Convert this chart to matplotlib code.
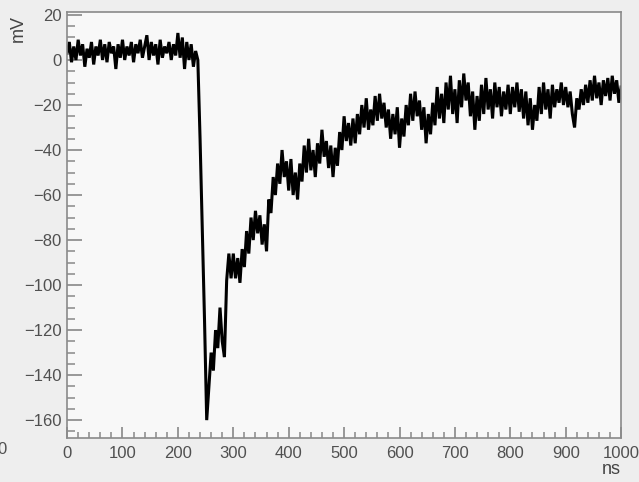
import numpy as np
import matplotlib.pyplot as plt
from matplotlib.ticker import MultipleLocator

# sample times (ns), one reading every 4 ns
time_ns = np.arange(0, 1001, 4)

# voltage readings (mV), 25 per 100 ns
volt_mv = [
    # 0 - 96
    3, 8, -1, 6, 0, 9, 2, 7, -3, 5, 1, 8, -2, 6, 2, 9, 0, 7, -1, 8, 3, 6, -4, 7, 1,
    # 100 - 196
    9, 0, 6, 2, 8, -1, 7, 3, 9, 1, 6, 11, 0, 8, 2, 7, -2, 9, 1, 6, 3, 8, 0, 7, 2,
    # 200 - 296
    12, 1, 10, -4, 8, 0, 7, -3, 4, 0, -35, -75, -115, -160, -145, -130, -138, -120,
    -128, -110, -125, -132, -98, -86, -97,
    # 300 - 396
    -86, -97, -88, -99, -84, -92, -76, -86, -70, -80, -67, -77, -69, -82, -73, -85,
    -62, -68, -52, -60, -46, -55, -40, -52, -45,
    # 400 - 496
    -58, -44, -60, -50, -62, -46, -54, -38, -50, -35, -49, -40, -52, -37, -46, -31,
    -43, -36, -48, -38, -52, -39, -47, -32, -40,
    # 500 - 596
    -25, -36, -28, -38, -26, -37, -24, -33, -20, -30, -17, -31, -22, -29, -16, -27,
    -15, -26, -19, -30, -22, -35, -24, -33, -21,
    # 600 - 696
    -39, -26, -34, -20, -29, -15, -27, -14, -25, -18, -31, -21, -37, -24, -33, -19,
    -29, -12, -26, -15, -28, -10, -22, -7, -24,
    # 700 - 796
    -13, -28, -9, -21, -6, -18, -10, -25, -14, -31, -16, -27, -11, -24, -8, -22,
    -13, -26, -10, -21, -12, -25, -14, -22, -11,
    # 800 - 896
    -24, -12, -21, -10, -23, -13, -26, -14, -29, -17, -31, -20, -27, -12, -24, -10,
    -22, -13, -26, -11, -21, -13, -19, -10, -20,
    # 900 - 1000
    -12, -21, -14, -24, -30, -17, -22, -13, -20, -11, -19, -9, -18, -7, -17, -10,
    -20, -9, -16, -8, -18, -7, -15, -9, -19, -12,
]

fig = plt.figure(figsize=(6.39, 4.82), dpi=100, facecolor="#eeeeee")
ax = fig.add_axes([0.105, 0.091, 0.867, 0.884])
ax.set_facecolor("#f8f8f8")

ax.plot(time_ns, volt_mv, color="black", lw=2.2, solid_joinstyle="miter")

ax.set_xlim(0, 1000)
ax.set_ylim(-168, 21.3)

# ROOT-like axes: ticks inside, none on top/right
ax.xaxis.set_major_locator(MultipleLocator(100))
ax.xaxis.set_minor_locator(MultipleLocator(20))
ax.yaxis.set_major_locator(MultipleLocator(20))
ax.yaxis.set_minor_locator(MultipleLocator(5))
ax.tick_params(axis="x", which="major", direction="in", length=8, width=1.2,
               color="#888888", labelsize=12, labelcolor="#505050", pad=6)
ax.tick_params(axis="x", which="minor", direction="in", length=4, width=1.1,
               color="#888888")
ax.tick_params(axis="y", which="major", direction="in", length=11, width=1.2,
               color="#888888", labelsize=12, labelcolor="#505050", pad=4)
ax.tick_params(axis="y", which="minor", direction="in", length=5.5, width=1.1,
               color="#888888")
ax.tick_params(top=False, right=False, which="both")
for lbl in ax.get_xticklabels() + ax.get_yticklabels():
    lbl.set_family("Liberation Sans")

for side in ["left", "bottom", "top", "right"]:
    ax.spines[side].set_color("#8a8a8a")
    ax.spines[side].set_linewidth(1.2)

fig.text(0.028, 0.94, "mV", rotation=90, ha="center", va="center",
         fontsize=13, color="#444444", family="Liberation Sans")
fig.text(0.956, 0.025, "ns", ha="center", va="center",
         fontsize=13, color="#444444", family="Liberation Sans")
# edge of a neighbouring label, cut by the screenshot
fig.text(0.003, 0.067, "0", ha="center", va="center",
         fontsize=12, color="#505050", family="Liberation Sans")

fig.savefig("out.png", dpi=100, facecolor=fig.get_facecolor())
